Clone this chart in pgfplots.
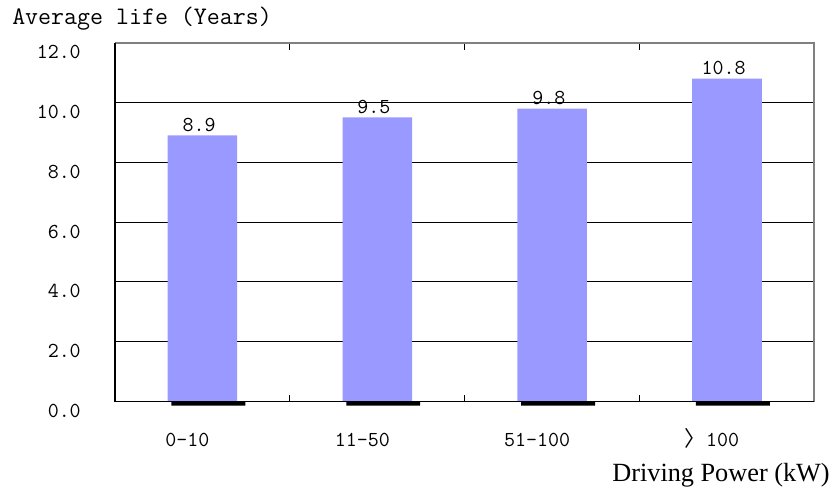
\documentclass[border=0pt]{standalone}
\usepackage{fontspec}
\usepackage{pgfplots}
\pgfplotsset{compat=1.18}
\newfontfamily\serifT{Liberation Serif}
\newfontfamily\cjk{Noto Sans CJK SC}
\definecolor{barblue}{HTML}{9999FF}
\definecolor{framegray}{HTML}{808080}
\newcommand{\tickfont}{\fontsize{16}{16}\selectfont\ttfamily}
\begin{document}
\begin{tikzpicture}
\path[use as bounding box] (0pt,0pt) rectangle (626.25pt,366.75pt);
\begin{axis}[
  at={(86.25pt,65.6pt)}, anchor=south west,
  scale only axis, width=524.6pt, height=269.1pt,
  xmin=-0.5, xmax=3.5, ymin=0, ymax=12,
  axis line style={draw=none},
  xtick={0,1,2,3},
  xticklabels={0-10,11-50,51-100,{{\cjk 〉}100}},
  minor xtick={0.5,1.5,2.5},
  major x tick style={draw=none},
  minor tick length=5.25pt,
  ytick={0,2,...,12},
  yticklabels={0.0,2.0,4.0,6.0,8.0,10.0,12.0},
  ytick style={draw=none},
  tick align=inside,
  minor x tick style={black, line width=0.75pt},
  ymajorgrids, grid style={black, line width=0.75pt},
  xticklabel style={font=\tickfont, anchor=base, inner sep=0pt, yshift=-33.5pt, xshift=-11.25pt},
  yticklabel style={font=\tickfont, anchor=base east, inner sep=0pt, xshift=-25.5pt, yshift=-12pt},
  clip=false,
]
\addplot[ybar, bar width=0.423, bar shift=0.034, fill=black, draw=none] coordinates {(0,-0.14) (1,-0.14) (2,-0.14) (3,-0.14)};
\addplot[ybar, bar width=0.398, bar shift=0, fill=barblue, draw=none,
  point meta=explicit symbolic, nodes near coords,
  nodes near coords style={font=\tickfont, anchor=base, inner sep=0pt, yshift=3.25pt, xshift=-2.5pt}]
  coordinates {(0,8.9)[8.9] (1,9.5)[9.5] (2,9.8)[9.8] (3,10.8)[10.8]};
\draw[framegray, line width=1.5pt] (rel axis cs:0,1) -- (rel axis cs:1,1) -- (rel axis cs:1,0);
\draw[black, line width=1.2pt] (rel axis cs:0,1) -- (rel axis cs:0,0) -- (rel axis cs:1,0);
\end{axis}
\node[anchor=base west, inner sep=0pt, font=\fontsize{18.9}{18.9}\selectfont\ttfamily] at (9pt,348pt) {Average life (Years)};
\node[anchor=base east, inner sep=0pt, font=\fontsize{19.7}{19.7}\selectfont\serifT] at (622.5pt,5.5pt) {Driving Power (kW)};
\end{tikzpicture}
\end{document}
